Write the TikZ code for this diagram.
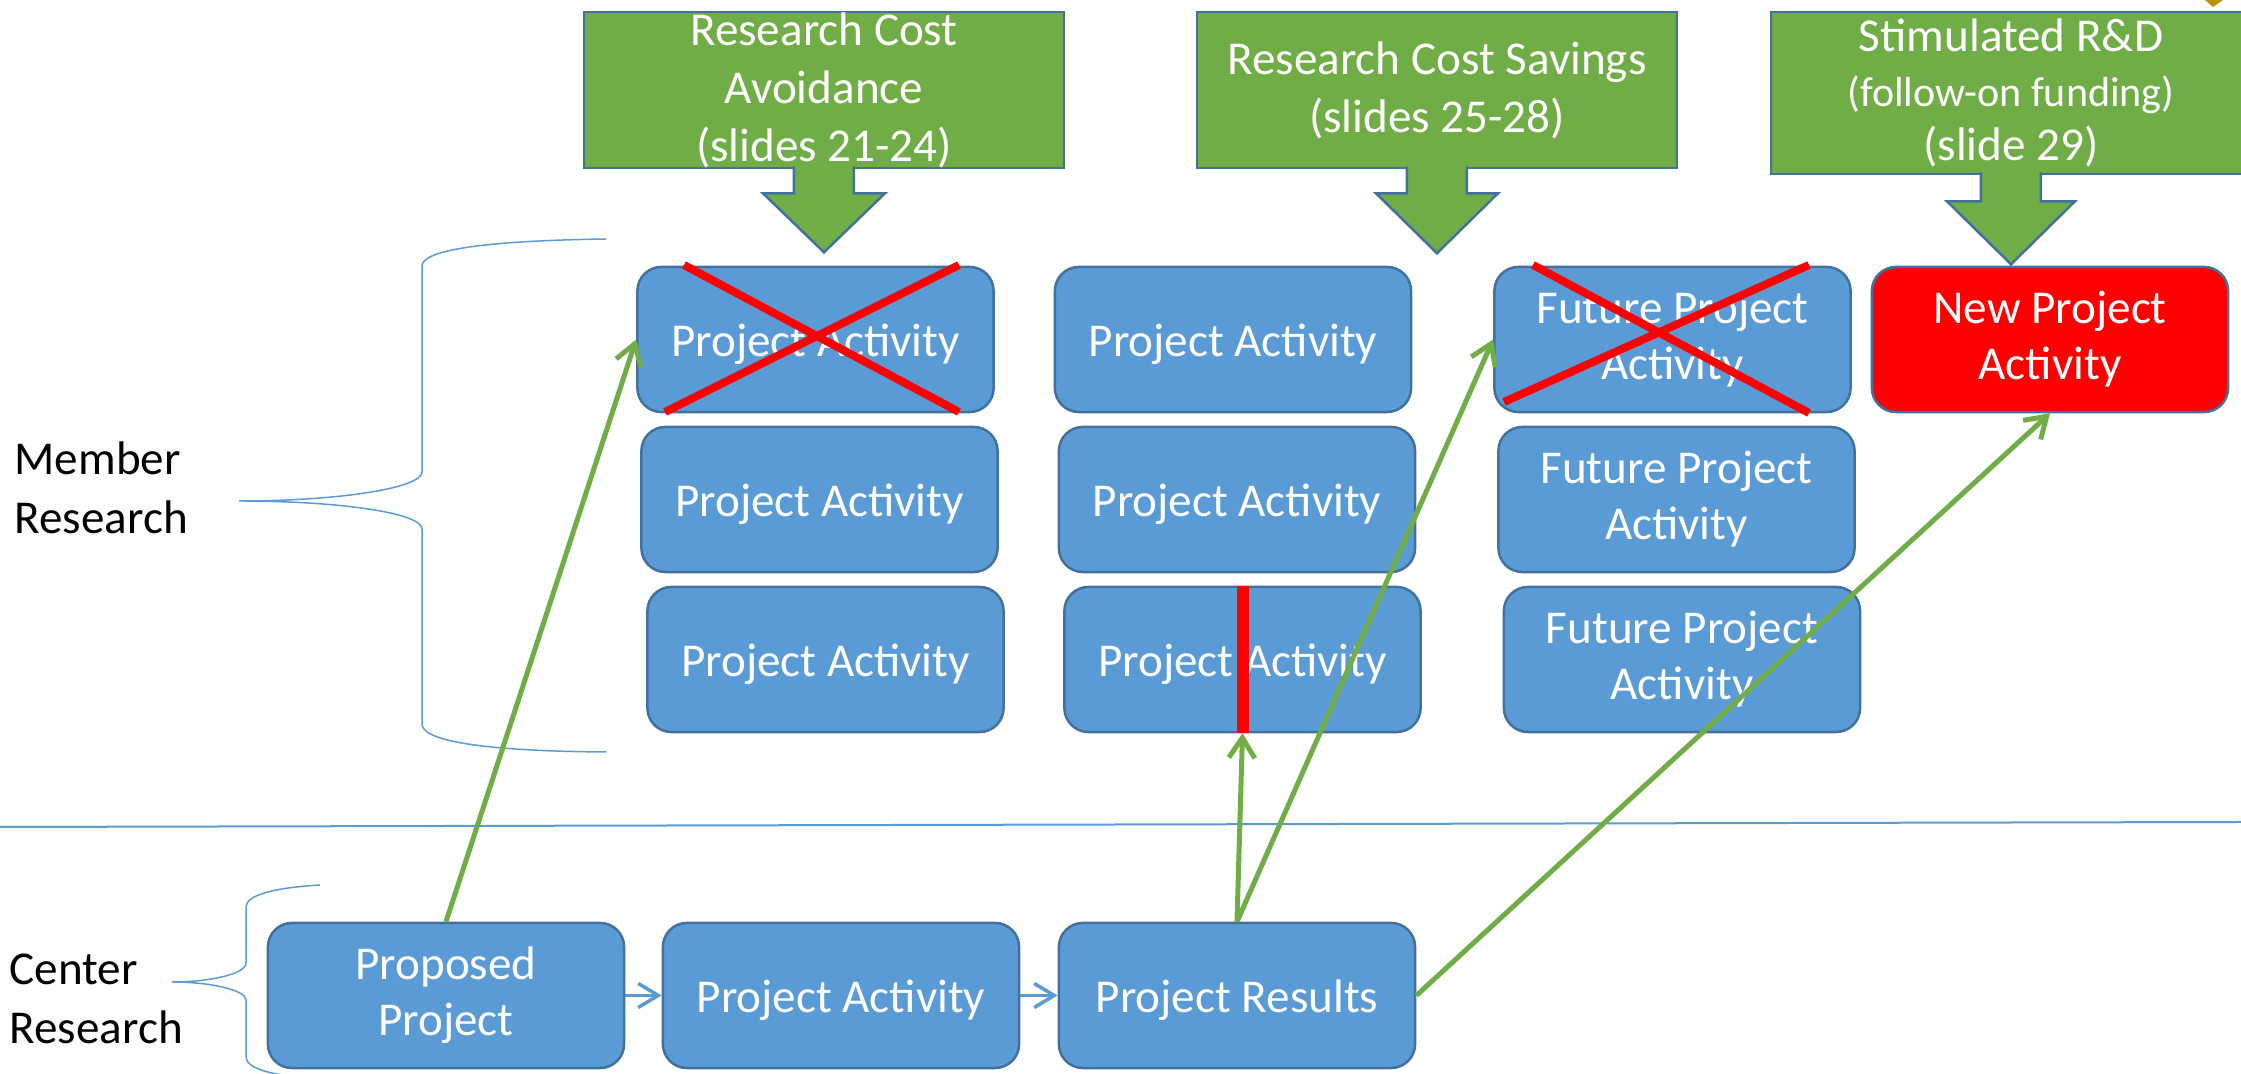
\documentclass[tikz,border=0pt]{standalone}
\usepackage{fontspec}
\setmainfont{Carlito}
\usetikzlibrary{arrows.meta}

\definecolor{boxblue}{HTML}{5B9BD5}
\definecolor{edgeblue}{HTML}{41719C}
\definecolor{leaf}{HTML}{70AD47}
\definecolor{alarm}{HTML}{FF0000}
\definecolor{ochre}{HTML}{BF9000}

\tikzset{
    activity/.style={rectangle, rounded corners=0.24cm, draw=edgeblue, fill=boxblue,
        line width=0.025cm, minimum width=3.56cm, minimum height=1.45cm, inner sep=0pt,
        text=white, align=center, font=\fontsize{13.4}{15.9}\selectfont,
        execute at begin node=\rule{0pt}{0.43cm}},
    gbox/.style={rectangle, draw=edgeblue, fill=leaf, line width=0.025cm,
        minimum width=4.8cm, minimum height=1.56cm, inner sep=0pt},
    gtext/.style={text=white, align=center, inner sep=0pt,
        font=\fontsize{13.4}{16.5}\selectfont, execute at begin node=\rule{0pt}{0.45cm}},
    callout/.style={fill=leaf, draw=edgeblue, line width=0.025cm, line join=miter},
    side/.style={align=left, inner sep=0pt, font=\fontsize{13.4}{16.6}\selectfont},
    brace/.style={draw=boxblue, line width=0.015cm},
    link/.style={draw=leaf, line width=0.05cm, -{Straight Barb[length=0.2cm,width=0.26cm]}},
    flow/.style={draw=boxblue, line width=0.035cm, -{Straight Barb[length=0.2cm,width=0.24cm]}},
    strike/.style={draw=alarm, line width=0.08cm},
}

\begin{document}
\begin{tikzpicture}[x=0.01cm, y=-0.01cm]
    \useasboundingbox (0,0) rectangle (2241,1074);
    \clip (0,0) rectangle (2241,1074);

    % side labels and braces
    \node[side, anchor=west] (member) at (14,488) {Member\\Research};
    \node[side, anchor=west] (center) at (9,999) {Center\\Research};

    \draw[brace] (606,239) .. controls (470,241) and (422,252) .. (422,266) -- (422,472)
        .. controls (422,488) and (340,501) .. (239,501)
        .. controls (340,501) and (422,513) .. (422,529) -- (422,724)
        .. controls (422,739) and (470,751) .. (606,752);
    \draw[brace] (320,885) .. controls (270,888) and (246,896) .. (246,907) -- (246,963)
        .. controls (246,974) and (210,982) .. (172,982)
        .. controls (210,982) and (246,990) .. (246,1000) -- (246,1057)
        .. controls (246,1068) and (270,1076) .. (320,1079);

    % line between member and center research
    \draw[brace, line width=0.02cm] (0,827) -- (2241,822);

    % member research
    \node[activity] (a11) at (815.5,339.5) {Project Activity};
    \node[activity] (a21) at (819.5,499.5) {Project Activity};
    \node[activity] (a31) at (825.5,659.5) {Project Activity};
    \node[activity] (a12) at (1233,339.5) {Project Activity};
    \node[activity] (a22) at (1237,499.5) {Project Activity};
    \node[activity] (a32) at (1242.5,659.5) {Project Activity};
    \node[activity] (f1) at (1672.5,339.5) {Future Project\\Activity};
    \node[activity] (f2) at (1676.5,499.5) {Future Project\\Activity};
    \node[activity] (f3) at (1682,659.5) {Future Project\\Activity};
    \node[activity, fill=alarm] (new) at (2050,339.5) {New Project\\Activity};

    % center research
    \node[activity] (prop) at (446,995.5) {Proposed\\Project};
    \node[activity] (pa) at (841,995.5) {Project Activity};
    \node[activity] (res) at (1237,995.5) {Project Results};

    % crossed out and cut activities
    \draw[strike] (684,265) -- (959,412);
    \draw[strike] (959,265) -- (665,412);
    \draw[strike] (1533,265) -- (1809,413);
    \draw[strike] (1809,265) -- (1504,402);
    \draw[strike, line width=0.12cm] (a32.north) -- (a32.south);

    % benefit boxes
    \node[gbox] (g1) at (824,90) {};
    \node[gbox] (g2) at (1437,90) {};
    \node[gbox, minimum height=1.62cm] (g3) at (2011,93) {};
    \node[gtext] (g1t) at (g1) {Research Cost\\Avoidance\\(slides 21-24)};
    \node[gtext] (g2t) at (g2) {Research Cost Savings\\(slides 25-28)};
    \node[gtext, font=\fontsize{13.4}{15.4}\selectfont] (g3t) at (g3)
        {Stimulated R\&D\\{\fontsize{11.95}{15.4}\selectfont(follow-on funding)}\\(slide 29)};

    \filldraw[callout] ([xshift=-0.3cm, yshift=0.03cm]g1.south) -- ++(0,27) -- ++(-31,0)
        -- ++(61,59) -- ++(61,-59) -- ++(-31,0) -- ++(0,-27);
    \filldraw[callout] ([xshift=-0.3cm, yshift=0.03cm]g2.south) -- ++(0,27) -- ++(-31,0)
        -- ++(61,60) -- ++(61,-60) -- ++(-31,0) -- ++(0,-27);
    \filldraw[callout] ([xshift=-0.3cm, yshift=0.03cm]g3.south) -- ++(0,29) -- ++(-34,0)
        -- ++(64,63) -- ++(64,-63) -- ++(-34,0) -- ++(0,-29);
    \fill[ochre] (2205,0) -- (2223,0) -- (2213,7) -- cycle;

    % flow of the center project
    \draw[flow] (prop.east) -- (pa.west);
    \draw[flow] (pa.east) -- (res.west);

    % where the results go
    \draw[link] (prop.north) -- (a11.west);
    \draw[link] (res.north) -- (a32.south);
    \draw[link] (res.north) -- (f1.west);
    \draw[link] (res.east) -- (new.south);
\end{tikzpicture}
\end{document}
